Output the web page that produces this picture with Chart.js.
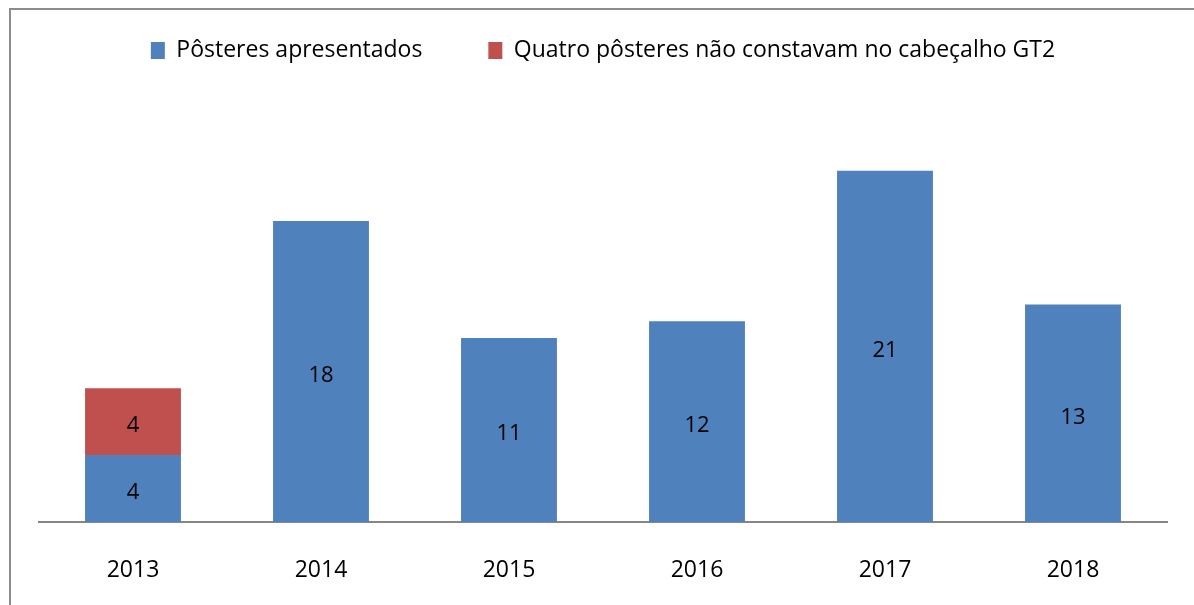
<!DOCTYPE html>
<html>
<head>
<meta charset="utf-8">
<script src="https://cdn.jsdelivr.net/npm/chart.js@4/dist/chart.umd.min.js"></script>
<style>
  html, body { margin: 0; padding: 0; background: #fff; }
  #wrap { width: 1194px; height: 605px; position: relative; }
</style>
</head>
<body>
<div id="wrap"><canvas id="chart_posteres"></canvas></div>
<script>
// data
var anos = ['2013', '2014', '2015', '2016', '2017', '2018'];
var posteresApresentados = [4, 18, 11, 12, 21, 13];
var naoConstavam = [4, null, null, null, null, null];
var nomeSerie1 = 'Pôsteres apresentados';
var nomeSerie2 = 'Quatro pôsteres não constavam no cabeçalho GT2';

var fonte = '"Open Sans", "Noto Sans", sans-serif';

var chart_posteres = new Chart(document.getElementById('chart_posteres'), {
    type: 'bar',
    data: {
        labels: anos,
        datasets: [
            {
                label: nomeSerie1,
                data: posteresApresentados,
                backgroundColor: '#4F81BD',
                categoryPercentage: 1,
                barPercentage: 0.51
            },
            {
                label: nomeSerie2,
                data: naoConstavam,
                backgroundColor: '#C0504D',
                categoryPercentage: 1,
                barPercentage: 0.51
            }
        ]
    },
    options: {
        animation: false,
        responsive: true,
        maintainAspectRatio: false,
        layout: {
            padding: { left: 39, right: 27, top: -27, bottom: 0 }
        },
        plugins: {
            legend: {
                position: 'top',
                labels: {
                    boxWidth: 14,
                    boxHeight: 17,
                    padding: 66,
                    color: '#000',
                    font: { family: fonte, size: 23 }
                }
            },
            tooltip: { enabled: false }
        },
        scales: {
            x: {
                stacked: true,
                grid: { display: false, drawTicks: false },
                border: { color: '#868686', width: 2 },
                ticks: {
                    color: '#000',
                    padding: 35,
                    font: { family: fonte, size: 23 }
                },
                afterFit: function (s) { s.height = 83; }
            },
            y: {
                stacked: true,
                display: false,
                min: 0,
                max: 26.9
            }
        }
    },
    plugins: [{
        id: 'fundoEBorda',
        beforeDraw: (chart) => {
            const ctx = chart.ctx;
            ctx.save();
            ctx.fillStyle = 'white';
            ctx.fillRect(0, 0, chart.width, chart.height);
            ctx.strokeStyle = '#8c8c8c';
            ctx.lineWidth = 2;
            ctx.beginPath();
            ctx.moveTo(10, chart.height);
            ctx.lineTo(10, 9);
            ctx.lineTo(chart.width, 9);
            ctx.stroke();
            ctx.restore();
        }
    }, {
        id: 'rotulos',
        afterDatasetsDraw: (chart) => {
            const ctx = chart.ctx;
            ctx.save();
            ctx.fillStyle = '#000';
            ctx.font = '22px ' + fonte;
            ctx.textAlign = 'center';
            ctx.textBaseline = 'middle';
            chart.data.datasets.forEach((ds, i) => {
                chart.getDatasetMeta(i).data.forEach((bar, j) => {
                    if (ds.data[j] == null) return;
                    const p = bar.getCenterPoint();
                    ctx.fillText(ds.data[j], p.x, p.y + 4);
                });
            });
            ctx.restore();
        }
    }]
});
</script>
</body>
</html>
